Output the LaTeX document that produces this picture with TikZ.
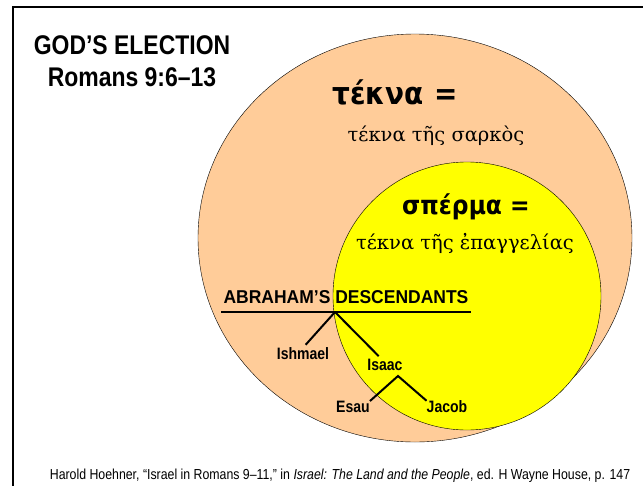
\documentclass[tikz,border=0pt]{standalone}
\usepackage{fontspec}
\setmainfont{Liberation Sans}
\newfontfamily\titlefont[FakeStretch=0.85]{Liberation Sans}
\newfontfamily\labelfont[FakeStretch=0.94]{Liberation Sans}
\newfontfamily\greekfont{DejaVu Serif}
\newfontfamily\greekbold[FakeStretch=0.9]{DejaVu Sans}
\definecolor{peach}{RGB}{255,204,153}
\definecolor{brightyellow}{RGB}{255,255,0}

\begin{document}
\begin{tikzpicture}[x=1pt, y=-1pt,
    heading/.style={font=\titlefont\bfseries\fontsize{27}{30}\selectfont},
    greekhead/.style={font=\greekbold\bfseries\fontsize{26}{30}\selectfont},
    greekline/.style={font=\greekfont\fontsize{19.5}{22}\selectfont},
    person/.style={inner sep=0pt, font=\titlefont\bfseries\fontsize{16.5}{18}\selectfont},
    branch/.style={line width=2pt}]
    \useasboundingbox (0,0) rectangle (643,485);
    \clip (0,0) rectangle (643,485);
    % frame, open to the right and the bottom
    \draw[line width=2.2pt] (13,7) rectangle (700,520);
    % the two sets
    \filldraw[fill=peach, draw=black, thin] (415,238) ellipse [x radius=217, y radius=204];
    \filldraw[fill=brightyellow, draw=black, thin] (467,296) circle [radius=134];
    \node[heading] (title) at (132,45) {GOD’S ELECTION};
    \node[heading] (ref) at (132,77) {Romans 9:6–13};
    \node[greekhead, font=\greekbold\bfseries\fontsize{31}{34}\selectfont] (teknahead) at (395,92) {τέκνα\hspace{0.35em}=};
    \node[greekline] (sarkos) at (436,136) {τέκνα τῆς σαρκὸς};
    \node[greekhead] (spermahead) at (466,207) {σπέρμα =};
    \node[greekline] (epangelias) at (465,243) {τέκνα τῆς ἐπαγγελίας};
    % family tree
    \node[font=\labelfont\bfseries\fontsize{18.6}{20}\selectfont, inner xsep=2pt] (abraham) at (346,297) {ABRAHAM’S DESCENDANTS};
    \coordinate (root) at (335,312);
    \draw[branch] (root -| abraham.west) -- (root -| abraham.east);
    \node[person] (ishmael) at (303,354) {Ishmael};
    \node[person] (isaac) at (385,365) {Isaac};
    \coordinate (fork) at (398,376);
    \node[person] (esau) at (353,407) {Esau};
    \node[person] (jacob) at (447,407) {Jacob};
    \draw[branch, shorten >=4pt] (root) -- (ishmael.north);
    \draw[branch, shorten >=4pt] (root) -- (isaac.120);
    \draw[branch] (esau.north east) -- (fork) -- (jacob.north west);
    \node[font=\titlefont\fontsize{14.5}{16}\selectfont] (source) at (340,476) {Harold Hoehner, “Israel in Romans 9–11,” in \textit{Israel: The Land and the People}, ed. H Wayne House, p. 147};
\end{tikzpicture}
\end{document}
